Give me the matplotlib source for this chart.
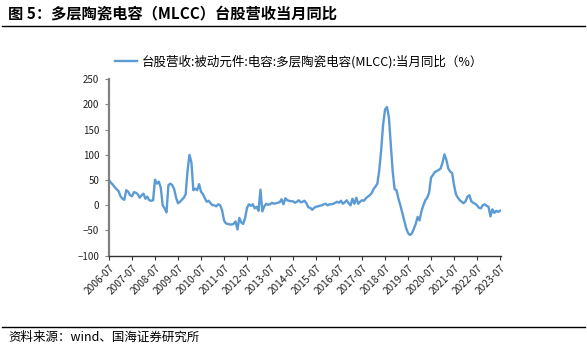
import numpy as np
import pandas as pd
import matplotlib.pyplot as plt
from matplotlib.lines import Line2D

plt.rcParams['font.family'] = ['Noto Sans CJK SC', 'DejaVu Sans']

# 月份 (2006-07 ~ 2023-07)
months = pd.date_range('2006-07-01', '2023-07-01', freq='MS')

# 台股营收:被动元件:电容:多层陶瓷电容(MLCC):当月同比 (%), 每行从当年7月开始
yoy = [
    50, 45, 41, 36, 32, 28, 18, 13, 11, 30, 27, 20,
    18, 26, 25, 22, 15, 20, 23, 13, 17, 10, 9, 10,
    51, 43, 47, 35, 0, -6, -14, 40, 43, 40, 32, 15,
    4, 7, 11, 15, 22, 70, 100, 85, 30, 33, 30, 42,
    27, 22, 14, 7, 9, 4, 0, 0, -2, 2, 0, -10,
    -30, -36, -37, -38, -38, -37, -32, -48, -25, -34, -37, -25,
    -5, 2, -1, 2, -6, -3, -11, 31, -12, -2, 3, 1,
    2, 5, 3, 4, 5, 6, 12, 2, 14, 10, 9, 8,
    8, 5, 7, 10, 6, 7, 9, 4, -4, -5, -9, -5,
    -3, -2, -1, 0, 2, 3, 0, 2, 2, 3, 5, 7,
    5, 9, 3, 6, 10, 4, 0, 13, 3, 15, 3, 7,
    10, 9, 14, 17, 20, 24, 32, 37, 43, 70, 110, 160,
    190, 195, 175, 120, 67, 32, 30, 13, 0, -15, -30, -45,
    -55, -59, -56, -47, -37, -23, -30, -12, 0, 10, 15, 25,
    55, 60, 66, 68, 70, 73, 85, 101, 90, 73, 67, 64,
    40, 22, 15, 10, 7, 4, 8, 17, 20, 8, 5, 3,
    0, -5, -6, 0, 2, -1, -3, -22, -8, -15, -11, -13,
    -11,
]

title = '图 5：多层陶瓷电容（MLCC）台股营收当月同比'
legend_label = '台股营收:被动元件:电容:多层陶瓷电容(MLCC):当月同比（%）'
source = '资料来源：wind、国海证券研究所'

x = np.arange(len(months))
tick_pos = x[::12]
tick_labels = [d.strftime('%Y-%m') for d in months[::12]]

fig = plt.figure(figsize=(5.87, 3.51), dpi=100)
ax = fig.add_axes([109 / 587, 1 - 255.7 / 351, 392 / 587, 176.4 / 351])

ax.plot(x, yoy, color='#5B9BD5', lw=1.7)

ax.set_xlim(0, x[-1] + 0.5)
ax.set_ylim(-100, 250)
ax.set_yticks(range(-100, 251, 50))
ax.set_xticks(tick_pos)
ax.set_xticklabels(tick_labels, rotation=45, ha='right', rotation_mode='anchor')

for s in ['top', 'right']:
    ax.spines[s].set_visible(False)
ax.spines['left'].set_color('#808080')
ax.spines['left'].set_linewidth(1.6)
ax.spines['bottom'].set_color('#333333')
ax.spines['bottom'].set_linewidth(1.0)
ax.tick_params(axis='y', length=3, color='#808080', labelsize=7, labelcolor='#222222', pad=4)
ax.tick_params(axis='x', length=3, color='#333333', labelsize=7.3, labelcolor='#222222', pad=2)

# 图例
handle = Line2D([], [], color='#5B9BD5', lw=1.7)
fig.legend([handle], [legend_label], loc='center', bbox_to_anchor=(299 / 587, 1 - 62 / 351),
           frameon=False, fontsize=9, handlelength=1.8, handletextpad=0.4,
           prop={'size': 9, 'weight': 'medium'})

# 标题和来源
fig.text(8 / 587, 1 - 13 / 351, title, fontsize=11, fontweight='bold', va='center', ha='left')
fig.add_artist(Line2D([2 / 587, 585 / 587], [1 - 26 / 351, 1 - 26 / 351], color='black', lw=1.0))
fig.add_artist(Line2D([2 / 587, 585 / 587], [1 - 327 / 351, 1 - 327 / 351], color='black', lw=1.0))
fig.text(8 / 587, 1 - 337 / 351, source, fontsize=9, va='center', ha='left')

fig.savefig('out.png', dpi=100)
